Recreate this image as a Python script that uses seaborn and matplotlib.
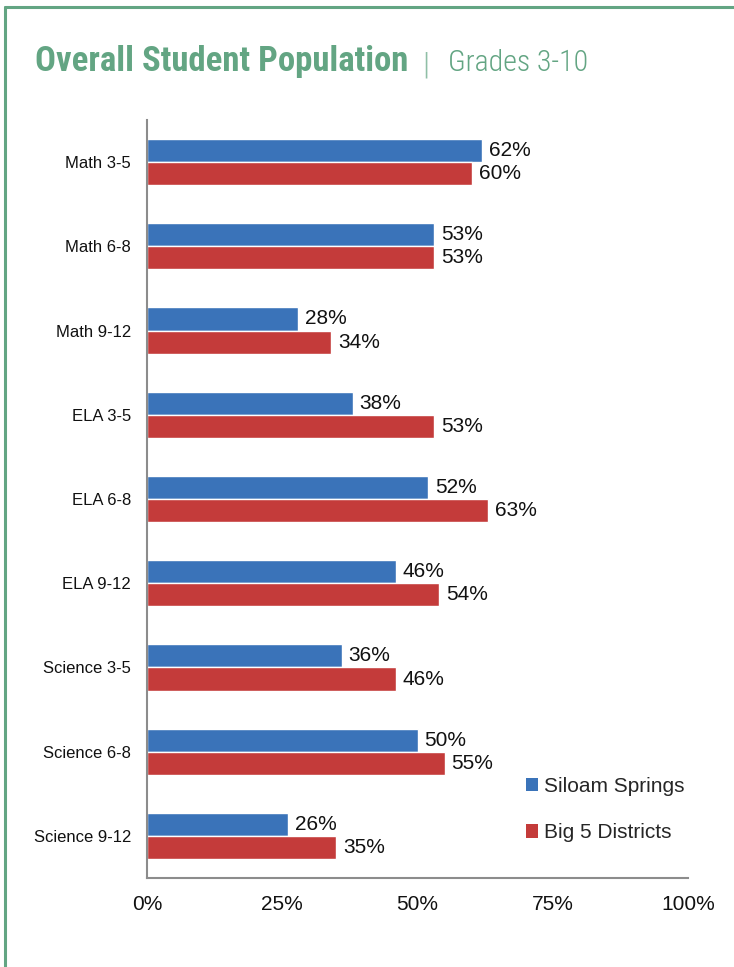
import matplotlib
matplotlib.use("Agg")
import matplotlib.pyplot as plt
import seaborn as sns
import pandas as pd
from matplotlib.lines import Line2D
from matplotlib.patches import Patch
from matplotlib.ticker import FixedLocator, PercentFormatter
from matplotlib import font_manager

categories = ["Math 3-5", "Math 6-8", "Math 9-12", "ELA 3-5", "ELA 6-8",
              "ELA 9-12", "Science 3-5", "Science 6-8", "Science 9-12"]
siloam = [62, 53, 28, 38, 52, 46, 36, 50, 26]
big5 = [60, 53, 34, 53, 63, 54, 46, 55, 35]
series = ["Siloam Springs", "Big 5 Districts"]
x_ticks = [0, 25, 50, 75, 100]

BLUE = "#3A73B9"
RED = "#C43B3A"
GREEN = "#63A583"
AXIS = "#8C8C8C"

rows = []
for cat, a, b in zip(categories, siloam, big5):
    rows.append({"category": cat, "series": series[0], "value": a})
    rows.append({"category": cat, "series": series[1], "value": b})
df = pd.DataFrame(rows)

sns.set_style("white")
plt.rcParams["font.family"] = ["Liberation Sans", "DejaVu Sans"]

fig = plt.figure(figsize=(7.34, 9.67), dpi=100)
ax = fig.add_axes([147 / 734, 1 - 878 / 967, 541 / 734, 758 / 967])

sns.barplot(data=df, x="value", y="category", hue="series", orient="h",
            palette=[BLUE, RED], width=0.55, saturation=1, ax=ax,
            legend=False, order=categories, hue_order=series)

for container in ax.containers:
    ax.bar_label(container, labels=[f"{v:.0f}%" for v in container.datavalues],
                 padding=5, fontsize=15, color="#111111")

ax.set_xlim(0, 100)
ax.set_ylim(len(categories) - 0.5, -0.5)
ax.set_xticks(x_ticks)
ax.xaxis.set_major_formatter(PercentFormatter(decimals=0))
ax.set_xlabel("")
ax.set_ylabel("")

ax.set_yticks(range(len(categories)))
ax.set_yticklabels(categories)
ax.yaxis.set_minor_locator(FixedLocator([i - 0.5 for i in range(len(categories) + 1)]))
ax.tick_params(axis="y", which="major", length=0, pad=11.5, labelsize=12, labelcolor="#111111")
ax.tick_params(axis="y", which="minor", length=5, width=1.3, color=AXIS, direction="out")
ax.tick_params(axis="x", which="major", length=5, width=1.3, color=AXIS, direction="out",
               labelsize=15, pad=7, labelcolor="#111111")

for side in ["top", "right"]:
    ax.spines[side].set_visible(False)
for side in ["left", "bottom"]:
    ax.spines[side].set_color(AXIS)
    ax.spines[side].set_linewidth(1.5)

handles = [Patch(facecolor=BLUE, edgecolor="none"), Patch(facecolor=RED, edgecolor="none")]
ax.legend(handles, series, loc="upper left", bbox_to_anchor=(0.685, 0.144),
          frameon=False, fontsize=15, handlelength=0.6, handleheight=0.6,
          handletextpad=0.25, labelspacing=1.3, borderaxespad=0)

# frame around the panel
fig.add_artist(Line2D([5 / 734, 5 / 734], [0, 1 - 7 / 967], color=GREEN, lw=2.2))
fig.add_artist(Line2D([5 / 734, 1], [1 - 7 / 967, 1 - 7 / 967], color=GREEN, lw=2.2))

# title: use a condensed face if one is installed
names = {f.name for f in font_manager.fontManager.ttflist}
cond = [n for n in ["Roboto Condensed", "Liberation Sans Narrow", "DejaVu Sans Condensed",
                    "Open Sans Condensed"] if n in names]
cond_stretch = [f for f in font_manager.fontManager.ttflist
                if f.name == "DejaVu Sans" and f.stretch == "condensed"]
if cond:
    tfam, tstretch, tsize, ssize = [cond[0], "DejaVu Sans"], "normal", 25, 21.5
elif cond_stretch:
    tfam, tstretch, tsize, ssize = ["DejaVu Sans"], "condensed", 23, 21
else:
    tfam, tstretch, tsize, ssize = ["Roboto", "DejaVu Sans"], "normal", 22, 21

fig.text(35 / 734, 1 - 71 / 967, "Overall Student Population", family=tfam,
         fontstretch=tstretch, fontsize=tsize, fontweight="bold", color=GREEN,
         ha="left", va="baseline")
fig.text(426 / 734, 1 - 73 / 967, "|", family=tfam, fontsize=23, fontweight="light",
         color="#8FBFA6", ha="center", va="baseline")
fig.text(448 / 734, 1 - 71 / 967, "Grades 3-10", family=tfam, fontstretch=tstretch,
         fontsize=ssize, fontweight="light", color=GREEN, ha="left", va="baseline")

fig.savefig("out.png", dpi=100)
